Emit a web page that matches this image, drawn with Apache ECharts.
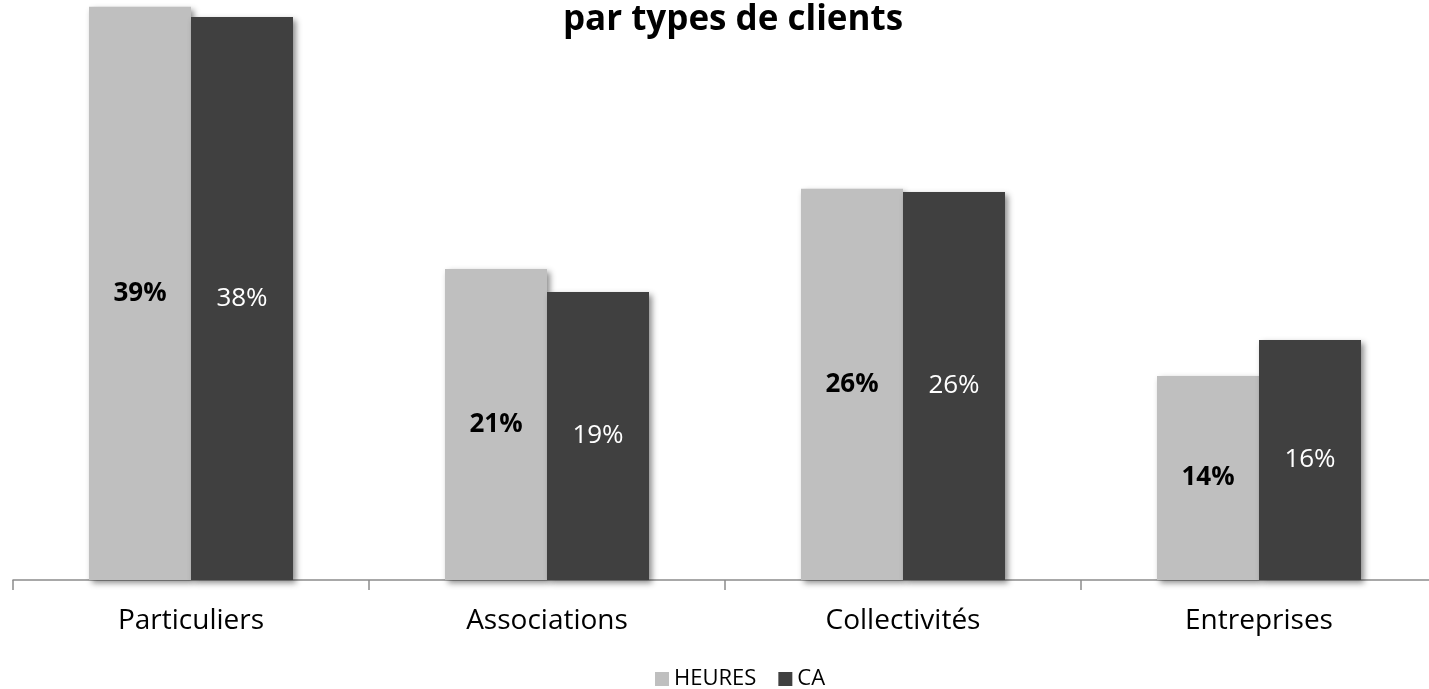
<!DOCTYPE html>
<html>
<head>
<meta charset="utf-8">
<script src="https://cdn.jsdelivr.net/npm/echarts@6/dist/echarts.min.js"></script>
<style>
  html, body { margin:0; padding:0; background:#fff; }
  #chart { width:1429px; height:689px; }
</style>
</head>
<body>
<div id="chart"></div>
<script>
  var categories = ['Particuliers', 'Associations', 'Collectivités', 'Entreprises'];
  var heures = [38.64, 20.97, 26.37, 13.76];
  var ca = [37.96, 19.42, 26.16, 16.18];
  var seriesNames = ['HEURES', 'CA'];

  var font = 'Open Sans';
  var shadow = {
    shadowColor: 'rgba(0,0,0,0.45)',
    shadowBlur: 6,
    shadowOffsetX: 3,
    shadowOffsetY: 3
  };

  var myChart = echarts.init(document.getElementById('chart'));
  var option = {
    animation: false,
    title: {
      text: 'par types de clients',
      left: 728,
      textAlign: 'center',
      top: -2,
      textStyle: { fontFamily: font, fontSize: 35, fontWeight: 'bold', color: '#000' }
    },
    legend: {
      left: 650,
      top: 663,
      icon: 'rect',
      itemWidth: 14,
      itemHeight: 14,
      itemGap: 22,
      textStyle: { fontFamily: font, fontSize: 22, color: '#000' },
      data: seriesNames
    },
    grid: { left: 13, width: 1424, top: 0, bottom: 109, outerBoundsMode: 'none', containLabel: false },
    xAxis: {
      type: 'category',
      data: categories,
      axisLine: { lineStyle: { color: '#8c8c8c', width: 1.5 } },
      axisTick: { show: true, length: 10, lineStyle: { color: '#8c8c8c', width: 1.5 } },
      axisLabel: { fontFamily: font, fontSize: 28, color: '#000', margin: 27 }
    },
    yAxis: {
      type: 'value',
      min: 0,
      max: 39.1,
      show: false,
      splitLine: { show: false }
    },
    series: [
      {
        name: seriesNames[0],
        type: 'bar',
        data: heures,
        barWidth: 102,
        barGap: '0%',
        itemStyle: Object.assign({ color: '#bfbfbf' }, shadow),
        label: {
          show: true,
          position: 'inside',
          fontFamily: font,
          fontSize: 26,
          fontWeight: 'bold',
          color: '#000',
          formatter: function (p) { return Math.round(p.value) + '%'; }
        }
      },
      {
        name: seriesNames[1],
        type: 'bar',
        data: ca,
        barWidth: 102,
        itemStyle: Object.assign({ color: '#404040' }, shadow),
        label: {
          show: true,
          position: 'inside',
          fontFamily: font,
          fontSize: 26,
          color: '#fff',
          formatter: function (p) { return Math.round(p.value) + '%'; }
        }
      }
    ]
  };
  myChart.setOption(option);
</script>
</body>
</html>
